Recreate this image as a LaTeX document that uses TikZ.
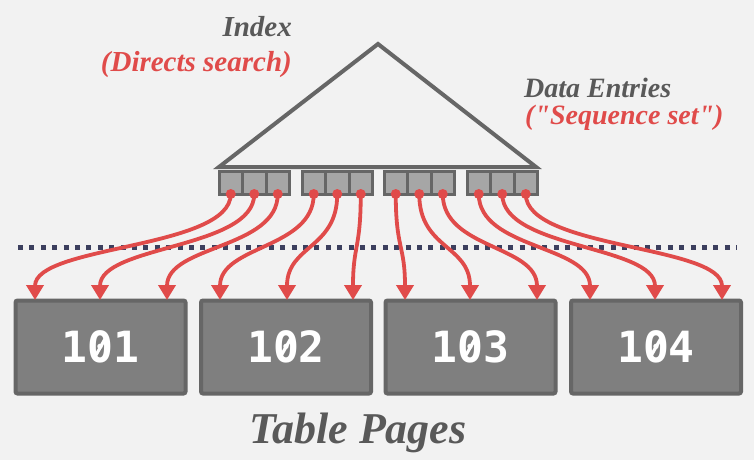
\documentclass[tikz,border=0pt]{standalone}
\usepackage{fontspec}
\setmainfont{Liberation Serif}[Ligatures=TeXOff]
\newfontfamily\numfont{DejaVu Sans Mono}
\usetikzlibrary{arrows.meta}
\definecolor{bgc}{HTML}{F2F2F2}
\definecolor{edgec}{HTML}{666666}
\definecolor{keyc}{HTML}{A6A6A6}
\definecolor{pagec}{HTML}{7F7F7F}
\definecolor{redc}{HTML}{E04B4A}
\definecolor{textc}{HTML}{595959}
\definecolor{dashc}{HTML}{3C3F5E}
\tikzset{
  keybox/.style={draw=edgec, fill=keyc, line width=3pt, minimum width=23.5pt, minimum height=23pt, inner sep=0pt, outer sep=0pt},
  pagebox/.style={draw=edgec, fill=pagec, line width=4pt, rounded corners=2pt, minimum width=170pt, minimum height=93pt, inner sep=0pt, text=white, font=\numfont\bfseries\fontsize{43}{43}\selectfont},
  zslash/.style={draw=white, line width=3.2pt},
  ptr/.style={draw=redc, line width=3.8pt, -{Triangle[length=15pt,width=17pt]}},
  dotc/.style={circle, fill=redc, minimum size=10pt, inner sep=0pt},
  lbl/.style={font=\bfseries\itshape\fontsize{29}{30}\selectfont, inner sep=0pt},
}
\begin{document}
\begin{tikzpicture}[x=1pt,y=-1pt]
\fill[bgc] (0,0) rectangle (754,460);
\useasboundingbox (0,0) rectangle (754,460);
% dashed separator
\coordinate (sl) at (18,247);
\coordinate (sr) at (737,247);
\draw[dashc, line width=5pt, dash pattern=on 5pt off 6.4pt] (sl) -- (sr);
% triangle
\coordinate (apex) at (378,44);
\coordinate (bl) at (219,167);
\coordinate (br) at (536,167);
\draw[edgec, line width=4pt, line join=miter, fill=bgc] (bl) -- (apex) -- (br) -- cycle;
% key boxes
\foreach \g/\gx in {0/219,1/302,2/384,3/467}{
  \foreach \k in {0,1,2}{
    \pgfmathtruncatemacro{\idx}{\g*3+\k+1}
    \node[keybox, anchor=north west] (k\idx) at (\gx+\k*23.5,171) {};
  }
}
% pages
\node[pagebox] (p1) at (100.5,347) {101};
\node[pagebox] (p2) at (286,347) {102};
\node[pagebox] (p3) at (470.5,347) {103};
\node[pagebox] (p4) at (656,347) {104};
\foreach \i in {1,...,4}{
  \draw[zslash] ([shift={(-4.5,8)}]p\i.center) -- ([shift={(4.5,-8)}]p\i.center);
}
% dots
\foreach \i in {1,...,12}{
  \node[dotc] (d\i) at (k\i.south) {};
}
% targets
\coordinate (t1) at (35,300);
\coordinate (t2) at (100,300);
\coordinate (t3) at (167,300);
\coordinate (t4) at (220,300);
\coordinate (t5) at (287,300);
\coordinate (t6) at (353,300);
\coordinate (t7) at (405,300);
\coordinate (t8) at (470,300);
\coordinate (t9) at (537,300);
\coordinate (t10) at (590,300);
\coordinate (t11) at (655,300);
\coordinate (t12) at (722,300);
\foreach \i in {1,...,12}{
  \draw[ptr] (d\i.center) .. controls ([yshift=-55pt]d\i.center) and ([yshift=55pt]t\i) .. (t\i);
}
% labels
\node[lbl, text=textc, anchor=base east] (idx) at (292,37) {Index};
\node[lbl, text=redc, anchor=base east] (dir) at (292,71) {(Directs search)};
\node[lbl, text=textc, anchor=base west, font=\bfseries\itshape\fontsize{28}{28}\selectfont] (de) at (524,97) {Data Entries};
\node[lbl, text=redc, anchor=base west, font=\bfseries\itshape\fontsize{28}{28}\selectfont] (seq) at (525,124) {("Sequence set")};
\node[font=\bfseries\itshape\fontsize{44}{44}\selectfont, text=textc, inner sep=0pt, anchor=base] (tp) at (358,443) {Table Pages};
\end{tikzpicture}
\end{document}
